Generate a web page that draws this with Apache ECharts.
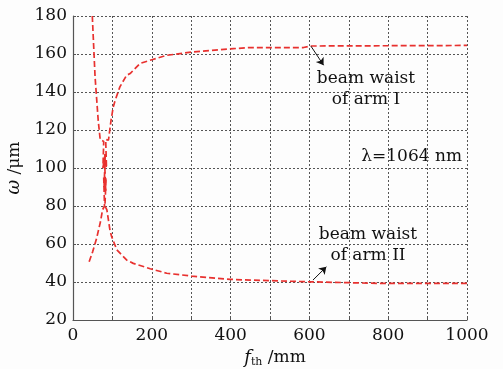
<!DOCTYPE html>
<html>
<head>
<meta charset="utf-8">
<script src="https://cdn.jsdelivr.net/npm/echarts@6/dist/echarts.min.js"></script>
<style>
  html, body { margin: 0; padding: 0; background: #fdfdfd; }
  #chart { width: 503px; height: 369px; }
</style>
</head>
<body>
<div id="chart"></div>
<script>
// waist of arm I (rising curve), [f_th mm, w um]
const armI = [
  [41, 50.7], [50, 56], [60, 63], [70, 72], [75, 78], [80, 80], [78, 95], [83, 88],
  [80, 105], [85, 100], [83, 115], [90, 114.6], [96.5, 125], [102, 132], [107, 135.6],
  [119, 142.7], [136, 148.8], [145, 149.7], [170, 155], [200, 157], [238, 159.3],
  [301, 161], [407, 162.8], [450, 163.4], [585, 163.4], [602, 164.2], [1000, 164.5],
]
// waist of arm II (falling curve)
const armII = [
  [49, 180], [56, 148], [64, 125], [69, 115], [78, 114], [76, 100], [82, 108], [79, 90],
  [84, 95], [81, 80], [86, 78], [94, 67], [98, 64], [111, 57], [136, 51.6], [153, 49.8],
  [196, 47], [238, 44.6], [301, 43.1], [399, 41.4], [450, 41], [602, 40.1], [771, 39.3],
  [1000, 39.3],
]
const xTicks = [0, 200, 400, 600, 800, 1000]
const yTicks = [20, 40, 60, 80, 100, 120, 140, 160, 180]

const RED = '#e8312f'
const FONT = 'DejaVu Serif'
const GRIDLINE = { show: true, lineStyle: { color: '#555', type: [2, 2], width: 1 } }

const chart = echarts.init(document.getElementById('chart'))

const curve = (data) => ({
  type: 'line', data, symbol: 'none', smooth: false,
  lineStyle: { color: RED, width: 1.7, type: [6, 3] },
  silent: true,
})

const arrow = (from, to) => ({
  type: 'line', data: [], silent: true,
  markLine: {
    silent: true, symbol: ['none', 'arrow'], symbolSize: 7,
    label: { show: false },
    lineStyle: { color: '#111', width: 1, type: 'solid' },
    data: [[{ coord: from }, { coord: to }]],
  },
})

const note = (text, x, y) => ({
  type: 'text', x, y, silent: true,
  style: {
    text, fill: '#111', font: '17px "DejaVu Serif"', lineHeight: 21,
    textAlign: 'center', textVerticalAlign: 'top',
  },
})

chart.setOption({
  animation: false,
  grid: { left: 73, right: 36, top: 16, bottom: 49, outerBoundsMode: 'none' },
  xAxis: {
    type: 'value', min: 0, max: 1000, interval: 100,
    axisLine: { show: true, onZero: false, lineStyle: { color: '#555', width: 1.2 } },
    axisTick: { show: true, inside: true, length: 3, lineStyle: { color: '#555' } },
    axisLabel: {
      margin: 7, color: '#111', fontFamily: FONT, fontSize: 17,
      formatter: (v) => (xTicks.includes(v) ? String(v) : ''),
    },
    splitLine: GRIDLINE,
    name: '{i|f}{s|th} /mm',
    nameLocation: 'middle', nameGap: 28,
    nameTextStyle: {
      color: '#111', fontFamily: FONT, fontSize: 17, padding: [0, 0, 0, 10],
      rich: {
        i: { fontFamily: FONT, fontStyle: 'italic', fontSize: 18, color: '#111' },
        s: { fontFamily: FONT, fontSize: 11, color: '#111', verticalAlign: 'bottom', padding: [8, 0, 0, 0] },
      },
    },
  },
  yAxis: {
    type: 'value', min: 20, max: 180, interval: 20,
    axisLine: { show: true, onZero: false, lineStyle: { color: '#555', width: 1.2 } },
    axisTick: { show: true, inside: true, length: 3, lineStyle: { color: '#555' } },
    axisLabel: {
      margin: 6, color: '#111', fontFamily: FONT, fontSize: 17,
      formatter: (v) => (yTicks.includes(v) ? String(v) : ''),
    },
    splitLine: GRIDLINE,
    name: '{i|ω} /μm',
    nameLocation: 'middle', nameGap: 47, nameRotate: 90,
    nameTextStyle: {
      color: '#111', fontFamily: FONT, fontSize: 17,
      rich: { i: { fontFamily: FONT, fontStyle: 'italic', fontSize: 18, color: '#111' } },
    },
  },
  series: [
    curve(armI),
    curve(armII),
    arrow([604, 164.1], [636, 154.1]),
    arrow([609, 41], [643, 48]),
  ],
  graphic: [
    note('beam waist\nof arm I', 366, 68),
    { type: 'text', x: 462, y: 165, silent: true,
      style: { text: 'λ=1064 nm', fill: '#111', font: '17px "DejaVu Serif"', textAlign: 'right', textVerticalAlign: 'bottom' } },
    note('beam waist\nof arm II', 368, 224),
  ],
})
</script>
</body>
</html>
